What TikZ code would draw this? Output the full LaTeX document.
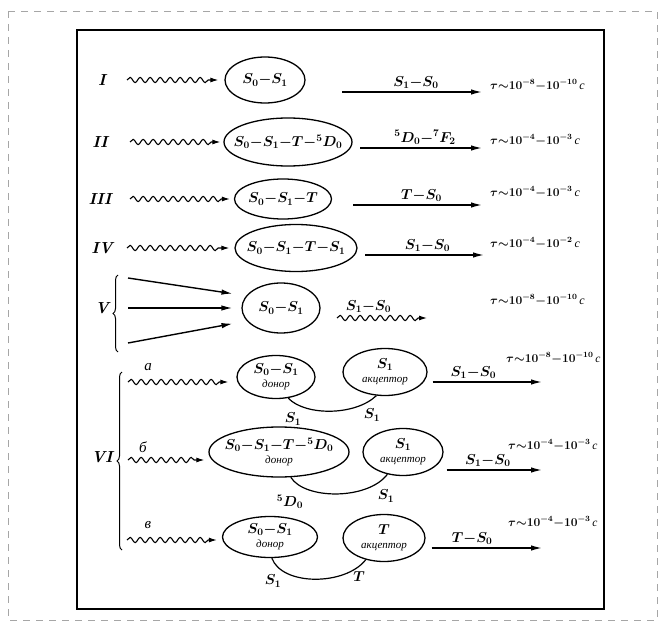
\documentclass[tikz,border=0pt]{standalone}
\usepackage[no-math]{fontspec}
\newfontfamily\cyr{Liberation Serif}
\usetikzlibrary{
  shapes.geometric,
  arrows.meta,
  decorations.pathmorphing,
  decorations.pathreplacing
}
\newcommand{\lifetime}[2]{$\tau{\sim}10^{#1}{-}10^{#2}$\,{\cyr\itshape с}}
\newcommand{\role}[1]{{\cyr\itshape\fontsize{11}{11}\selectfont #1}}
\tikzset{
  state/.style={draw, ellipse, line width=1.3pt, inner xsep=-10pt, inner ysep=-6pt, align=center,
    font=\fontsize{14}{14}\selectfont\boldmath},
  wave/.style={-{Latex[length=8pt,width=5pt]}, line width=1.1pt, decorate,
    decoration={snake, amplitude=2.6pt, segment length=10pt, post length=7pt}},
  emit/.style={-{Latex[length=11pt,width=5.5pt]}, line width=1.4pt},
  link/.style={line width=1.2pt},
  brace/.style={line width=1pt, decorate, decoration={brace, amplitude=5pt}},
  life/.style={anchor=west, inner sep=0pt, font=\fontsize{12}{14}\selectfont\boldmath},
  lifeVI/.style={life, font=\fontsize{11.5}{13}\selectfont\boldmath},
  trans/.style={font=\fontsize{14}{15}\selectfont\boldmath, inner sep=1pt},
  numlabel/.style={font=\fontsize{16}{16}\selectfont\bfseries\itshape},
  sublabel/.style={font=\fontsize{15}{16}\selectfont\cyr\itshape}
}

\begin{document}
\begin{tikzpicture}[x=1pt, y=-1pt]
  \useasboundingbox (0,0) rectangle (667,623);
  \draw[dash pattern=on 7pt off 6pt, gray!70, line width=0.8pt] (8,11) rectangle (657,620);
  \draw[line width=1.2pt] (77,30) rectangle (604,609);

  % I
  \node[numlabel] (lI) at (102,80) {I};
  \coordinate (wI) at (127,80);
  \node[state, minimum width=80pt, minimum height=46pt] (eI) at (265,80) {$S_0{-}S_1$};
  \draw[wave] (wI) -- ([xshift=-6pt]eI.west);
  \coordinate (aI) at (342,92);
  \node[life] (tI) at (490,85) {\lifetime{-8}{-10}};
  \draw[emit, shorten >=8pt] (aI) -- (aI -| tI.west) node[midway, above=2pt, trans] {$S_1{-}S_0$};

  % II
  \node[numlabel] (lII) at (100,142) {II};
  \coordinate (wII) at (130,142);
  \node[state, minimum width=128pt, minimum height=48pt] (eII) at (288,142) {$S_0{-}S_1{-}T{-}{}^5D_0$};
  \draw[wave] (wII) -- ([xshift=-3pt]eII.west);
  \coordinate (aII) at (360,148);
  \node[life] (tII) at (490,140) {\lifetime{-4}{-3}};
  \draw[emit, shorten >=8pt] (aII) -- (aII -| tII.west) node[midway, above=2pt, trans] {${}^5D_0{-}{}^7F_2$};

  % III
  \node[numlabel] (lIII) at (100,199) {III};
  \coordinate (wIII) at (130,199);
  \node[state, minimum width=97pt, minimum height=40pt] (eIII) at (283,199) {$S_0{-}S_1{-}T$};
  \draw[wave] (wIII) -- ([xshift=-4pt]eIII.west);
  \coordinate (aIII) at (353,205);
  \node[life] (tIII) at (490,192) {\lifetime{-4}{-3}};
  \draw[emit, shorten >=8pt] (aIII) -- (aIII -| tIII.west) node[midway, above=2pt, trans] {$T{-}S_0$};

  % IV
  \node[numlabel] (lIV) at (102,248) {IV};
  \coordinate (wIV) at (127,248);
  \node[state, minimum width=122pt, minimum height=47pt] (eIV) at (296,248) {$S_0{-}S_1{-}T{-}S_1$};
  \draw[wave] (wIV) -- ([xshift=-5pt]eIV.west);
  \coordinate (aIV) at (365,255);
  \node[life] (tIV) at (490,243) {\lifetime{-4}{-2}};
  \draw[emit, shorten >=6pt] (aIV) -- (aIV -| tIV.west) node[midway, above=2pt, trans] {$S_1{-}S_0$};

  % V
  \coordinate (bVt) at (118,275);
  \coordinate (bVb) at (118,352);
  \draw[brace] (bVb) -- (bVt);
  \node[numlabel] (lV) at (102,308) {V};
  \node[state, minimum width=78pt, minimum height=50pt] (eV) at (281,308) {$S_0{-}S_1$};
  \foreach \i/\ys/\dy in {1/278/13, 2/308/0, 3/343/-14} {
    \coordinate (vs\i) at (128,\ys);
    \draw[emit, shorten >=9pt] (vs\i) -- ([yshift=\dy pt]eV.west);
  }
  \coordinate (wVs) at (337,318);
  \coordinate (wVe) at (427,318);
  \draw[wave] (wVs) -- (wVe) node[pos=0.35, above=4pt, trans] {$S_1{-}S_0$};
  \node[life] (tV) at (490,300) {\lifetime{-8}{-10}};

  % VI
  \coordinate (bVIt) at (122,372);
  \coordinate (bVIb) at (122,550);
  \draw[brace] (bVIb) -- (bVIt);
  \node[numlabel] (lVI) at (102,457) {VI};

  % VI a
  \node[sublabel] (la) at (148,367) {а};
  \coordinate (wa) at (128,382);
  \node[state, minimum width=78pt, minimum height=43pt] (da) at (276,377) {$S_0{-}S_1$\\[0pt]\role{донор}};
  \node[state, minimum width=84pt, minimum height=47pt] (aa) at (385,372) {$S_1$\\[0pt]\role{акцептор}};
  \draw[wave] (wa) -- ([xshift=-8pt]da.west |- wa);
  \draw[link] (da.300) .. controls (305,416) and (355,416) .. (aa.250);
  \node[trans] (sa1) at (293,419) {$S_1$};
  \node[trans] (sa2) at (372,415) {$S_1$};
  \coordinate (xa) at (542,382);
  \draw[emit, shorten <=5pt] (aa.east |- xa) -- (xa) node[pos=0.4, above=2pt, trans] {$S_1{-}S_0$};
  \node[lifeVI] (tVIa) at (506,358) {\lifetime{-8}{-10}};

  % VI b
  \node[sublabel] (lb) at (143,447) {б};
  \coordinate (wb) at (128,460);
  \node[state, minimum width=140pt, minimum height=50pt] (db) at (279,452) {$S_0{-}S_1{-}T{-}{}^5D_0$\\[0pt]\role{донор}};
  \node[state, minimum width=80pt, minimum height=47pt] (ab) at (403,452) {$S_1$\\[0pt]\role{акцептор}};
  \draw[wave] (wb) -- ([xshift=-4pt]db.west |- wb);
  \draw[link] (db.295) .. controls (305,500) and (368,500) .. (ab.235);
  \node[trans] (sb1) at (290,502) {${}^5D_0$};
  \node[trans] (sb2) at (386,496) {$S_1$};
  \coordinate (xb) at (542,470);
  \draw[emit, shorten <=3pt] (ab.east |- xb) -- (xb) node[pos=0.45, above=2pt, trans] {$S_1{-}S_0$};
  \node[lifeVI] (tVIb) at (508,445) {\lifetime{-4}{-3}};

  % VI c
  \node[sublabel] (lc) at (148,525) {в};
  \coordinate (wc) at (127,540);
  \node[state, minimum width=95pt, minimum height=41pt] (dc) at (270,537) {$S_0{-}S_1$\\[0pt]\role{донор}};
  \node[state, minimum width=82pt, minimum height=47pt] (ac) at (384,538) {$T$\\[0pt]\role{акцептор}};
  \draw[wave] (wc) -- ([xshift=-5pt]dc.west |- wc);
  \draw[link] (dc.275) .. controls (282,586) and (345,586) .. (ac.230);
  \node[trans] (sc1) at (273,581) {$S_1$};
  \node[trans] (sc2) at (359,577) {$T$};
  \coordinate (xc) at (542,548);
  \draw[emit, shorten <=6pt] (ac.east |- xc) -- (xc) node[pos=0.4, above=2pt, trans] {$T{-}S_0$};
  \node[lifeVI] (tVIc) at (508,522) {\lifetime{-4}{-3}};
\end{tikzpicture}
\end{document}
